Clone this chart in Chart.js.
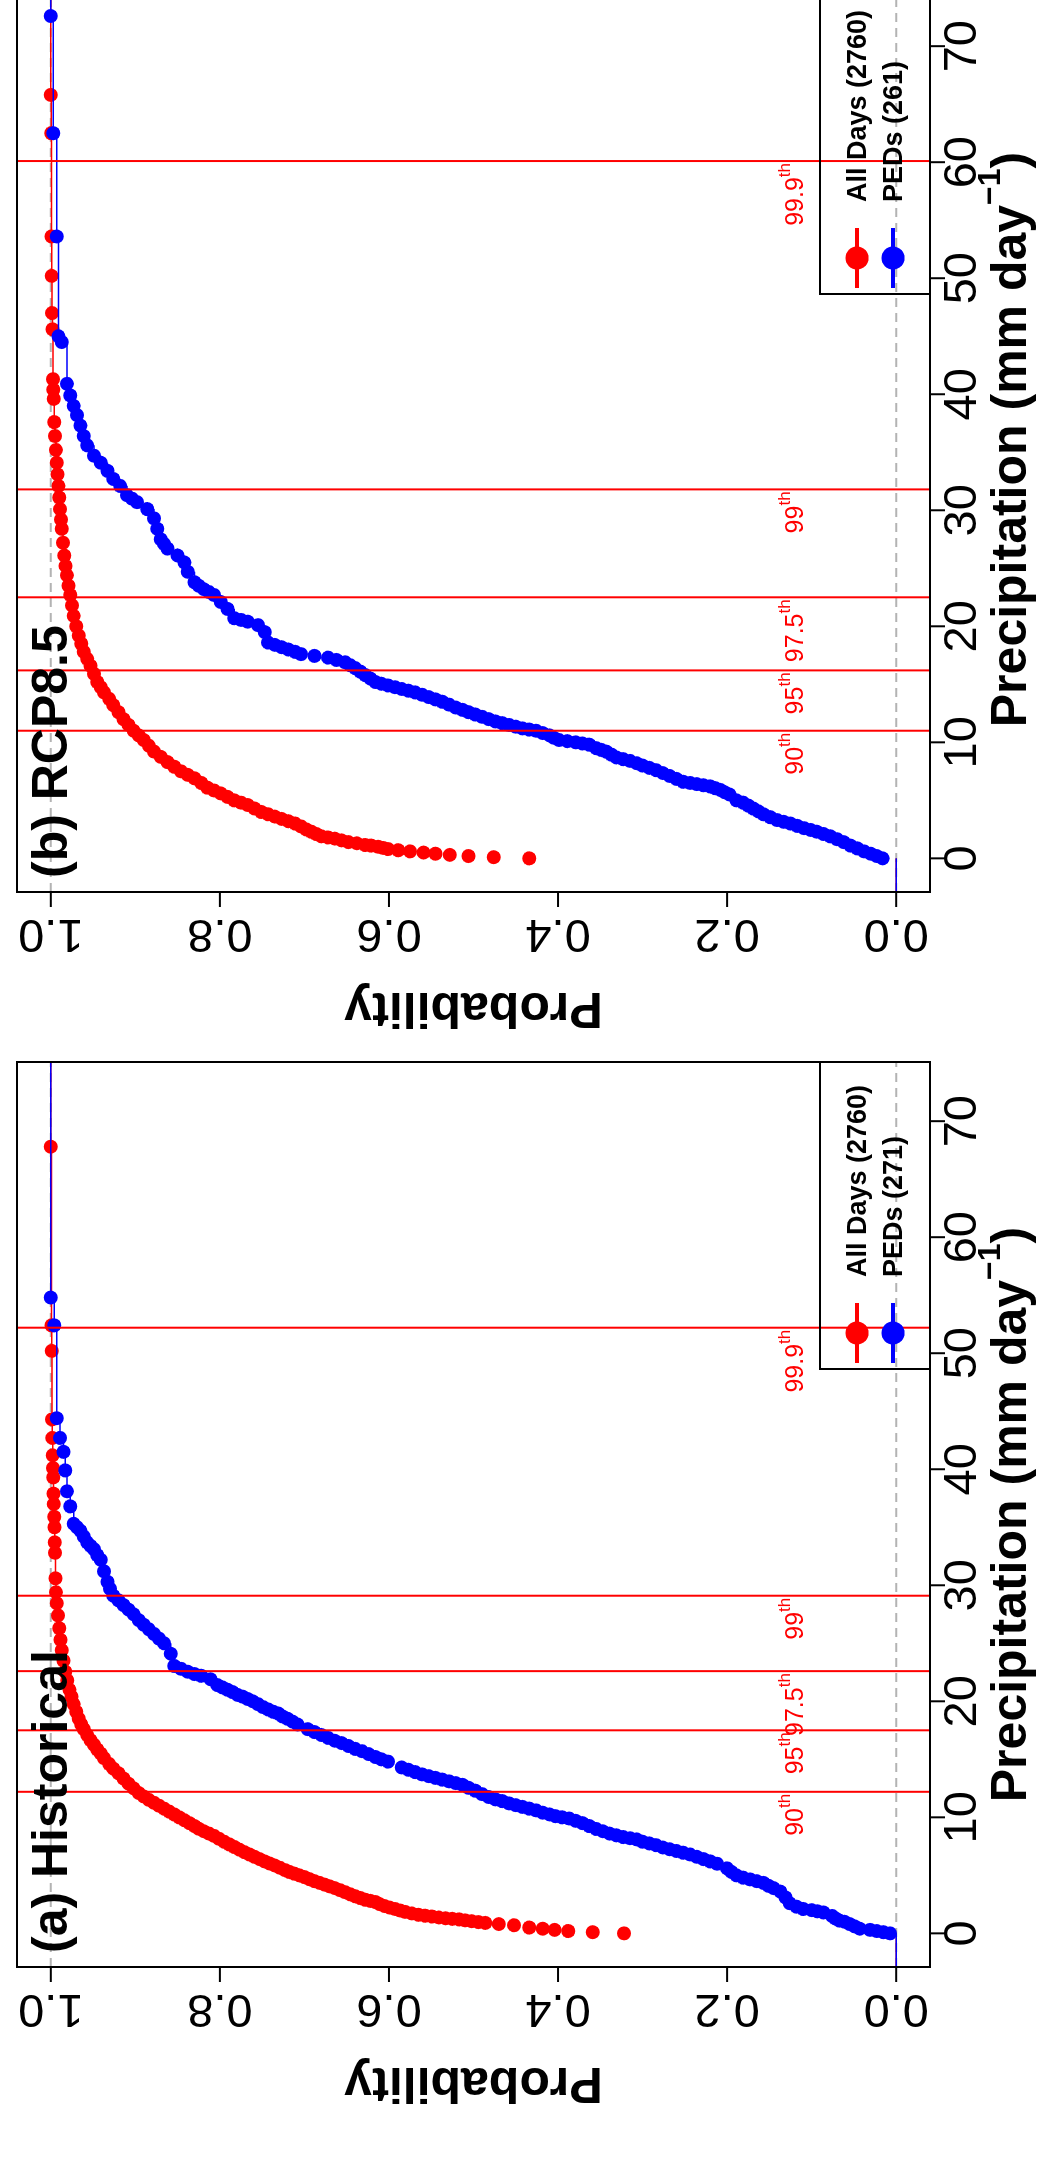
<!DOCTYPE html>
<html>
<head>
<meta charset="utf-8">
<script src="https://cdn.jsdelivr.net/npm/chart.js@4.4.1/dist/chart.umd.min.js"></script>
<style>
  html, body { margin: 0; padding: 0; background: #fff; overflow: hidden; }
  body { width: 1051px; height: 2176px; position: relative; }
  /* the two panels are laid out side by side, then the whole figure is turned a quarter left */
  #fig {
    position: absolute; left: 0; top: 0;
    width: 2176px; height: 1051px; overflow: hidden;
    transform-origin: 0 0;
    transform: translateY(2176px) rotate(-90deg);
    background: #fff;
  }
  #fig canvas { position: absolute; top: 0; }
</style>
</head>
<body>
<div id="fig">
  <canvas id="hist" width="1160" height="1051" style="left:0px"></canvas>
  <canvas id="rcp" width="1160" height="1051" style="left:1075px"></canvas>
</div>
<script>
// axis ticks
const precipTicks = [0, 10, 20, 30, 40, 50, 60, 70];
const probTicks = [0, 0.2, 0.4, 0.6, 0.8, 1.0];
const probTickLabels = ['0.0', '0.2', '0.4', '0.6', '0.8', '1.0'];

// percentile thresholds of all days (mm/day)
const pctNames = ['90', '95', '97.5', '99', '99.9'];
const pctHist = [12.2, 17.5, 22.6, 29.1, 52.2];
const pctRcp = [11.0, 16.2, 22.5, 31.8, 60.1];

// empirical CDF, historical, all days
const histAllPrecip = [0, 0.1, 0.2, 0.3, 0.4, 0.5, 0.7, 0.8, 0.9, 0.97, 1.05, 1.12, 1.2, 1.25, 1.3, 1.37, 1.45, 1.52, 1.6, 1.72,
  1.85, 1.97, 2.1, 2.22, 2.35, 2.52, 2.7, 2.8, 2.9, 3.05, 3.2, 3.37, 3.55, 3.72, 3.9, 4.05, 4.2, 4.35, 4.5, 4.67,
  4.85, 5.0, 5.15, 5.3, 5.45, 5.65, 5.85, 6.02, 6.2, 6.4, 6.6, 6.8, 7.0, 7.22, 7.45, 7.67, 7.9, 8.15, 8.4, 8.6,
  8.8, 9.02, 9.25, 9.5, 9.75, 10.0, 10.25, 10.5, 10.75, 11.0, 11.25, 11.5, 11.8, 12.1, 12.5, 12.9, 13.35, 13.8, 14.2, 14.6,
  15.1, 15.5, 15.85, 16.25, 16.65, 17.1, 17.6, 18.0, 18.5, 19.1, 19.75, 20.4, 21.0, 21.8, 22.55, 23.5, 24.4, 25.3, 26.3, 27.4,
  28.45, 29.4, 30.6, 32.8, 33.7, 35.0, 35.9, 37.0, 37.9, 39.3, 40.1, 41.2, 42.7, 44.3, 50.2, 52.4, 67.8];
const histAllProb = [0.322, 0.359, 0.388, 0.404, 0.418, 0.434, 0.452, 0.470, 0.486, 0.494, 0.502, 0.510, 0.517, 0.525, 0.533, 0.541, 0.549, 0.557, 0.565, 0.573,
  0.581, 0.587, 0.593, 0.599, 0.605, 0.611, 0.616, 0.622, 0.628, 0.634, 0.640, 0.646, 0.652, 0.658, 0.664, 0.670, 0.676, 0.682, 0.688, 0.694,
  0.700, 0.706, 0.712, 0.718, 0.723, 0.729, 0.735, 0.741, 0.747, 0.753, 0.759, 0.765, 0.771, 0.777, 0.783, 0.789, 0.795, 0.801, 0.807, 0.813,
  0.819, 0.825, 0.830, 0.836, 0.842, 0.848, 0.854, 0.860, 0.866, 0.872, 0.878, 0.884, 0.890, 0.896, 0.902, 0.908, 0.914, 0.920, 0.926, 0.931,
  0.937, 0.941, 0.945, 0.949, 0.953, 0.957, 0.961, 0.964, 0.967, 0.970, 0.973, 0.9755, 0.978, 0.9805, 0.983, 0.985, 0.987, 0.9885, 0.990, 0.9915,
  0.993, 0.994, 0.9945, 0.995, 0.9953, 0.9957, 0.996, 0.9964, 0.9968, 0.9971, 0.9975, 0.9978, 0.9982, 0.9986, 0.9989, 0.9993, 1.0];

// empirical CDF, historical, PEDs
const histPedPrecip = [0, 0.1, 0.2, 0.3, 0.4, 0.6, 0.8, 1.0, 1.1, 1.3, 1.5, 1.8, 1.9, 2.0, 2.1, 2.3, 2.6, 3.1, 3.6, 3.9,
  4.1, 4.35, 4.5, 4.65, 4.8, 5.0, 5.3, 5.6, 6.0, 6.2, 6.4, 6.6, 6.8, 6.95, 7.1, 7.25, 7.4, 7.6, 7.75, 7.9,
  8.1, 8.2, 8.3, 8.45, 8.6, 8.8, 9.0, 9.25, 9.5, 9.7, 9.9, 10.0, 10.1, 10.25, 10.4, 10.6, 10.75, 10.9, 11.05, 11.2,
  11.4, 11.55, 11.75, 12.0, 12.3, 12.55, 12.8, 12.95, 13.1, 13.25, 13.4, 13.55, 13.7, 13.9, 14.1, 14.3, 14.8, 15.0, 15.2, 15.45,
  15.7, 15.9, 16.15, 16.4, 16.6, 16.85, 17.1, 17.35, 17.6, 18.0, 18.25, 18.5, 18.7, 18.95, 19.1, 19.3, 19.5, 19.75, 20.0, 20.2,
  20.4, 20.55, 20.8, 21.0, 21.2, 21.4, 21.9, 22.2, 22.35, 22.55, 22.8, 23.05, 24.1, 25.0, 25.4, 25.8, 26.2, 26.6, 27.0, 27.5,
  27.9, 28.3, 28.7, 29.1, 29.7, 30.3, 31.2, 32.2, 32.6, 33.1, 33.4, 33.7, 34.2, 34.7, 35.0, 35.3, 36.8, 38.1, 39.9, 41.5,
  42.7, 44.4, 52.4, 54.8];
const histPedProb = [0.0074, 0.015, 0.023, 0.031, 0.043, 0.049, 0.055, 0.061, 0.067, 0.072, 0.076, 0.086, 0.093, 0.100, 0.110, 0.118, 0.126, 0.131, 0.137, 0.145,
  0.151, 0.157, 0.165, 0.173, 0.181, 0.189, 0.195, 0.200, 0.212, 0.220, 0.228, 0.236, 0.244, 0.252, 0.260, 0.268, 0.276, 0.284, 0.292, 0.300,
  0.307, 0.315, 0.323, 0.331, 0.339, 0.347, 0.355, 0.363, 0.371, 0.379, 0.387, 0.395, 0.403, 0.410, 0.418, 0.426, 0.434, 0.442, 0.450, 0.458,
  0.466, 0.474, 0.482, 0.490, 0.498, 0.506, 0.513, 0.521, 0.529, 0.537, 0.545, 0.553, 0.561, 0.569, 0.577, 0.585, 0.601, 0.609, 0.616, 0.624,
  0.632, 0.640, 0.648, 0.656, 0.664, 0.672, 0.680, 0.688, 0.696, 0.708, 0.714, 0.720, 0.726, 0.731, 0.737, 0.743, 0.749, 0.755, 0.761, 0.767,
  0.773, 0.779, 0.785, 0.791, 0.797, 0.803, 0.811, 0.822, 0.830, 0.838, 0.846, 0.854, 0.858, 0.866, 0.872, 0.878, 0.884, 0.890, 0.896, 0.902,
  0.908, 0.914, 0.920, 0.926, 0.930, 0.933, 0.937, 0.941, 0.945, 0.949, 0.953, 0.957, 0.961, 0.965, 0.969, 0.973, 0.977, 0.981, 0.983, 0.985,
  0.989, 0.993, 0.996, 1.0];

// empirical CDF, RCP8.5, all days
const rcpAllPrecip = [0, 0.1, 0.2, 0.3, 0.4, 0.5, 0.6, 0.7, 0.8, 0.9, 1.0, 1.1, 1.15, 1.3, 1.4, 1.55, 1.7, 1.8, 1.9, 2.1,
  2.3, 2.5, 2.75, 3.0, 3.2, 3.4, 3.6, 3.8, 4.0, 4.3, 4.6, 4.8, 5.0, 5.3, 5.6, 5.85, 6.1, 6.5, 6.9, 7.2,
  7.5, 7.9, 8.3, 8.75, 9.2, 9.7, 10.2, 10.6, 11.0, 11.5, 12.0, 12.6, 13.2, 13.75, 14.3, 14.75, 15.2, 15.9, 16.6, 17.2,
  17.8, 18.5, 19.2, 20.0, 20.9, 21.8, 22.7, 23.5, 24.4, 25.2, 26.1, 27.2, 28.4, 29.2, 30.1, 31.1, 32.1, 33.1, 34.1, 35.2,
  36.4, 37.6, 39.6, 40.4, 41.3, 45.6, 47.0, 50.2, 53.6, 62.5, 65.8];
const rcpAllProb = [0.434, 0.476, 0.506, 0.528, 0.545, 0.559, 0.575, 0.589, 0.601, 0.607, 0.613, 0.621, 0.628, 0.638, 0.648, 0.656, 0.664, 0.672, 0.680, 0.686,
  0.692, 0.698, 0.704, 0.711, 0.719, 0.727, 0.735, 0.743, 0.751, 0.759, 0.767, 0.775, 0.783, 0.791, 0.799, 0.807, 0.815, 0.822, 0.830, 0.838,
  0.846, 0.854, 0.862, 0.870, 0.878, 0.884, 0.890, 0.896, 0.902, 0.908, 0.914, 0.920, 0.926, 0.931, 0.937, 0.941, 0.945, 0.949, 0.953, 0.957,
  0.961, 0.964, 0.967, 0.970, 0.973, 0.975, 0.977, 0.979, 0.981, 0.9825, 0.984, 0.9855, 0.987, 0.988, 0.989, 0.990, 0.991, 0.992, 0.993, 0.994,
  0.995, 0.996, 0.9965, 0.997, 0.9975, 0.998, 0.9985, 0.999, 0.9993, 0.9996, 1.0];

// empirical CDF, RCP8.5, PEDs
const rcpPedPrecip = [0, 0.2, 0.4, 0.6, 0.86, 1.1, 1.4, 1.65, 1.9, 2.1, 2.3, 2.45, 2.6, 2.8, 3.0, 3.15, 3.3, 3.55, 3.8, 4.05,
  4.3, 4.55, 4.8, 5.0, 5.5, 5.7, 5.9, 6.05, 6.2, 6.3, 6.4, 6.5, 6.6, 6.85, 7.1, 7.35, 7.6, 7.8, 8.0, 8.2,
  8.4, 8.55, 8.7, 8.95, 9.2, 9.35, 9.5, 9.8, 9.9, 10.0, 10.1, 10.2, 10.4, 10.6, 10.8, 11.0, 11.1, 11.2, 11.35, 11.5,
  11.65, 11.8, 12.0, 12.2, 12.4, 12.6, 12.8, 13.0, 13.25, 13.5, 13.7, 13.9, 14.1, 14.3, 14.45, 14.6, 14.75, 14.9, 15.05, 15.2,
  15.5, 15.8, 16.1, 16.4, 16.65, 16.9, 17.1, 17.3, 17.45, 17.6, 17.8, 18.0, 18.2, 18.4, 18.6, 19.5, 20.1, 20.4, 20.55, 20.7,
  21.5, 22.1, 22.7, 22.95, 23.2, 23.5, 23.8, 24.7, 25.5, 26.1, 26.7, 27.1, 27.5, 28.4, 29.3, 30.1, 30.7, 31.0, 31.3, 32.1,
  32.7, 33.4, 34.1, 34.7, 35.6, 36.4, 37.3, 38.2, 39.0, 39.9, 40.9, 44.5, 45.0, 53.6, 62.5, 72.6];
const rcpPedProb = [0.016, 0.023, 0.030, 0.038, 0.046, 0.054, 0.062, 0.070, 0.078, 0.086, 0.094, 0.101, 0.109, 0.117, 0.125, 0.133, 0.141, 0.149, 0.157, 0.163,
  0.169, 0.175, 0.181, 0.189, 0.197, 0.203, 0.208, 0.214, 0.220, 0.228, 0.236, 0.244, 0.252, 0.260, 0.268, 0.276, 0.284, 0.292, 0.300, 0.307,
  0.315, 0.323, 0.331, 0.337, 0.343, 0.349, 0.355, 0.363, 0.371, 0.379, 0.389, 0.399, 0.405, 0.410, 0.418, 0.426, 0.434, 0.442, 0.450, 0.458,
  0.466, 0.474, 0.482, 0.490, 0.498, 0.506, 0.513, 0.521, 0.529, 0.537, 0.545, 0.553, 0.561, 0.569, 0.577, 0.585, 0.593, 0.601, 0.609, 0.616,
  0.622, 0.628, 0.634, 0.640, 0.646, 0.652, 0.662, 0.672, 0.688, 0.704, 0.711, 0.719, 0.727, 0.735, 0.743, 0.747, 0.755, 0.767, 0.775, 0.783,
  0.791, 0.799, 0.807, 0.813, 0.819, 0.825, 0.830, 0.838, 0.842, 0.850, 0.862, 0.866, 0.870, 0.874, 0.878, 0.886, 0.898, 0.904, 0.910, 0.918,
  0.926, 0.933, 0.941, 0.949, 0.957, 0.961, 0.965, 0.969, 0.973, 0.977, 0.981, 0.987, 0.991, 0.993, 0.997, 1.0];

const X_MIN = -2.9, X_MAX = 75.1;
const RED = '#ff0000', BLUE = '#0000ff';
const FONT = '"Liberation Sans", Arial, Helvetica, sans-serif';

// horizontal ECDF steps, no verticals: each value holds until the next one
function ecdfSteps(xs, ps) {
  const pts = [{x: X_MIN, y: 0}, {x: xs[0], y: 0}, {x: xs[0], y: null}];
  for (let i = 0; i < xs.length; i++) {
    const next = i + 1 < xs.length ? xs[i + 1] : X_MAX;
    pts.push({x: xs[i], y: ps[i]}, {x: next, y: ps[i]}, {x: next, y: null});
  }
  return pts;
}

function toPoints(xs, ps) {
  return xs.map((v, i) => ({x: v, y: ps[i]}));
}

const framePlugin = {
  id: 'frame',
  beforeDatasetsDraw(chart) {
    const {ctx, chartArea: a, scales: {y}} = chart;
    ctx.save();
    ctx.strokeStyle = '#b3b3b3';
    ctx.lineWidth = 2;
    ctx.setLineDash([9, 6]);
    [0, 1].forEach(v => {
      const py = y.getPixelForValue(v);
      ctx.beginPath(); ctx.moveTo(a.left, py); ctx.lineTo(a.right, py); ctx.stroke();
    });
    ctx.restore();
  },
  afterDatasetsDraw(chart, args, opts) {
    const {ctx, chartArea: a, scales: {x, y}} = chart;
    ctx.save();
    ctx.strokeStyle = RED;
    ctx.fillStyle = RED;
    ctx.lineWidth = 2;
    const by = y.getPixelForValue(0.11);
    opts.pct.forEach((v, i) => {
      const px = x.getPixelForValue(v);
      ctx.beginPath(); ctx.moveTo(px, a.top); ctx.lineTo(px, a.bottom); ctx.stroke();
      ctx.textAlign = 'right';
      ctx.textBaseline = 'alphabetic';
      ctx.font = '17px ' + FONT;
      const thW = ctx.measureText('th').width;
      ctx.fillText('th', px - 2, by - 13);
      ctx.font = '25px ' + FONT;
      ctx.fillText(pctNames[i], px - 2 - thW, by);
    });
    ctx.restore();
  },
  afterDraw(chart, args, opts) {
    const {ctx, chartArea: a, scales: {x, y}} = chart;
    ctx.save();
    ctx.strokeStyle = '#000';
    ctx.fillStyle = '#000';
    ctx.lineWidth = 2;
    ctx.setLineDash([]);
    ctx.strokeRect(a.left, a.top, a.right - a.left, a.bottom - a.top);

    // precipitation axis
    ctx.font = '47px ' + FONT;
    ctx.textAlign = 'center';
    ctx.textBaseline = 'alphabetic';
    precipTicks.forEach(v => {
      const px = x.getPixelForValue(v);
      ctx.beginPath(); ctx.moveTo(px, a.bottom); ctx.lineTo(px, a.bottom + 15); ctx.stroke();
      ctx.fillText(String(v), px, a.bottom + 46);
    });

    // probability axis, labels parallel to the axis
    probTicks.forEach((v, i) => {
      const py = y.getPixelForValue(v);
      ctx.beginPath(); ctx.moveTo(a.left, py); ctx.lineTo(a.left - 15, py); ctx.stroke();
      ctx.save();
      ctx.translate(a.left - 28, py);
      ctx.rotate(-Math.PI / 2);
      ctx.fillText(probTickLabels[i], 0, 0);
      ctx.restore();
    });

    // axis titles
    ctx.font = 'bold 50px ' + FONT;
    ctx.save();
    ctx.translate(a.left - 101, (a.top + a.bottom) / 2);
    ctx.rotate(-Math.PI / 2);
    ctx.fillText('Probability', 0, 0);
    ctx.restore();

    const main = 'Precipitation (mm day';
    const wMain = ctx.measureText(main).width;
    ctx.font = 'bold 32px ' + FONT;
    const wSup = ctx.measureText('\u22121').width;
    ctx.font = 'bold 50px ' + FONT;
    const wEnd = ctx.measureText(')').width;
    let tx = (a.left + a.right) / 2 - (wMain + wSup + wEnd) / 2;
    const tb = a.bottom + 96;
    ctx.textAlign = 'left';
    ctx.fillText(main, tx, tb);
    tx += wMain;
    ctx.font = 'bold 32px ' + FONT;
    ctx.fillText('\u22121', tx, tb - 26);
    tx += wSup;
    ctx.font = 'bold 50px ' + FONT;
    ctx.fillText(')', tx, tb);

    // panel title
    ctx.fillText(opts.title, a.left + 14, a.top + 50);

    // legend, bottom right of the plot
    const lw = 307, lh = 110;
    const lx = a.right - lw, ly = a.bottom - lh;
    ctx.strokeRect(lx, ly, lw, lh);
    const rows = [
      {label: 'All Days (2760)', color: RED, cy: ly + 37},
      {label: opts.pedLabel, color: BLUE, cy: ly + 73}
    ];
    ctx.font = 'bold 27px ' + FONT;
    rows.forEach(r => {
      const cx = lx + 36;
      ctx.strokeStyle = r.color;
      ctx.fillStyle = r.color;
      ctx.lineWidth = 4;
      ctx.beginPath(); ctx.moveTo(cx - 30, r.cy); ctx.lineTo(cx + 30, r.cy); ctx.stroke();
      ctx.beginPath(); ctx.arc(cx, r.cy, 11.5, 0, Math.PI * 2); ctx.fill();
      ctx.fillStyle = '#000';
      ctx.fillText(r.label, lx + 92, r.cy + 9);
    });
    ctx.restore();
  }
};

function makePanel(id, allX, allP, pedX, pedP, pct, title, pedLabel) {
  const lineOpts = {showLine: true, pointRadius: 0, borderWidth: 1.5, spanGaps: false, fill: false};
  const dotOpts = {showLine: false, pointRadius: 7, pointHoverRadius: 7, pointBorderWidth: 0};
  return new Chart(document.getElementById(id), {
    type: 'scatter',
    data: {
      datasets: [
        Object.assign({label: 'All Days steps', data: ecdfSteps(allX, allP), borderColor: RED, order: 4}, lineOpts),
        Object.assign({label: 'All Days', data: toPoints(allX, allP), backgroundColor: RED, order: 3}, dotOpts),
        Object.assign({label: 'PEDs steps', data: ecdfSteps(pedX, pedP), borderColor: BLUE, order: 2}, lineOpts),
        Object.assign({label: 'PEDs', data: toPoints(pedX, pedP), backgroundColor: BLUE, order: 1}, dotOpts)
      ]
    },
    options: {
      responsive: false,
      animation: false,
      layout: {padding: {left: 209, right: 46, top: 17, bottom: 121}},
      scales: {
        x: {type: 'linear', min: X_MIN, max: X_MAX, display: false},
        y: {type: 'linear', min: -0.04, max: 1.04, display: false}
      },
      plugins: {
        legend: {display: false},
        tooltip: {enabled: false},
        frame: {pct: pct, title: title, pedLabel: pedLabel}
      }
    },
    plugins: [framePlugin]
  });
}

makePanel('hist', histAllPrecip, histAllProb, histPedPrecip, histPedProb, pctHist, '(a) Historical', 'PEDs (271)');
makePanel('rcp', rcpAllPrecip, rcpAllProb, rcpPedPrecip, rcpPedProb, pctRcp, '(b) RCP8.5', 'PEDs (261)');
</script>
</body>
</html>
